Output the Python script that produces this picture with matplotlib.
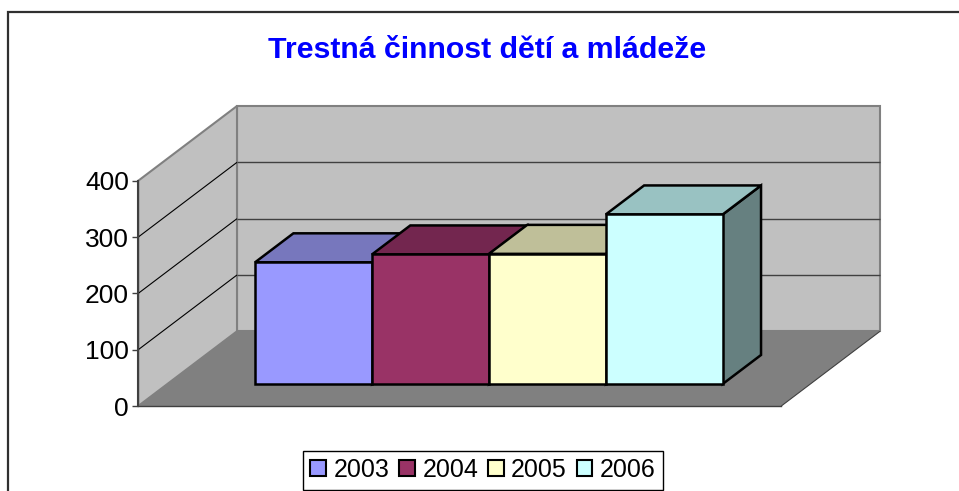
import matplotlib
matplotlib.use('Agg')
import matplotlib.pyplot as plt
from matplotlib.patches import Polygon, Rectangle

plt.rcParams['font.family'] = ['Liberation Sans', 'DejaVu Sans']

title = 'Trestná činnost dětí a mládeže'
years = ['2003', '2004', '2005', '2006']
counts = [216, 230, 231, 301]
front_colors = ['#9999FF', '#993366', '#FFFFCC', '#CCFFFF']
top_colors = ['#7777BD', '#73264F', '#BFBF99', '#99C2C2']
side_colors = ['#5C5C99', '#5C1F3D', '#99997A', '#668080']
yticks = [0, 100, 200, 300, 400]
vmax = 400

W, H = 959, 491
fig = plt.figure(figsize=(W / 100, H / 100), dpi=100)

# front plane of the 3d box, in pixels from top-left
left_px, right_px, top_px, base_px = 138.3, 781.3, 180.7, 406
ax = fig.add_axes([left_px / W, 1 - base_px / H,
                   (right_px - left_px) / W, (base_px - top_px) / H])
ax.set_xlim(0, 1)
ax.set_ylim(0, vmax)
ax.patch.set_visible(False)

# depth direction (pixels) converted to data units
DX = 98.7 / (right_px - left_px)
DV = 74.7 / (base_px - top_px) * vmax


def P(x, v, z):
    return (x + z * DX, v + z * DV)


def face(pts, **kw):
    ax.add_patch(Polygon(pts, closed=True, clip_on=False, **kw))


def line(a, b, **kw):
    ax.plot([a[0], b[0]], [a[1], b[1]], clip_on=False, solid_capstyle='butt', **kw)


# walls and floor
face([P(0, 0, 1), P(1, 0, 1), P(1, vmax, 1), P(0, vmax, 1)],
     fc='#C0C0C0', ec='#808080', lw=1.5, zorder=1)
face([P(0, 0, 0), P(0, 0, 1), P(0, vmax, 1), P(0, vmax, 0)],
     fc='#C0C0C0', ec='#808080', lw=1.5, zorder=1)
face([P(0, 0, 0), P(1, 0, 0), P(1, 0, 1), P(0, 0, 1)],
     fc='#808080', ec='none', zorder=1.1)
line(P(1, 0, 0), P(1, 0, 1), color='#404040', lw=0.8, zorder=1.2)

for v in yticks[1:-1]:
    line(P(0, v, 0), P(0, v, 1), color='black', lw=0.8, zorder=1.3)
    line(P(0, v, 1), P(1, v, 1), color='#404040', lw=1.0, zorder=1.3)

# bars (one category, four series, gap width 150%)
w = 1 / (len(years) + 1.5)
gap = 0.75 * w
z0, z1 = 0.295, 0.683
for i, v in enumerate(counts):
    x0 = gap + i * w
    x1 = x0 + w
    kw = dict(ec='black', lw=1.8, joinstyle='miter', zorder=2 + i * 0.1)
    face([P(x1, 0, z0), P(x1, 0, z1), P(x1, v, z1), P(x1, v, z0)], fc=side_colors[i], **kw)
    face([P(x0, v, z0), P(x1, v, z0), P(x1, v, z1), P(x0, v, z1)], fc=top_colors[i], **kw)
    face([P(x0, 0, z0), P(x1, 0, z0), P(x1, v, z0), P(x0, v, z0)], fc=front_colors[i], **kw)

# value axis
ax.set_yticks(yticks)
ax.set_xticks([])
ax.tick_params(axis='y', direction='out', length=4.3, width=1, color='#404040',
               labelsize=19, pad=2.5)
for s in ['top', 'right']:
    ax.spines[s].set_visible(False)
ax.spines['left'].set_color('#404040')
ax.spines['left'].set_linewidth(1.5)
ax.spines['bottom'].set_color('#404040')
ax.spines['bottom'].set_linewidth(1.0)

fig.text(487.5 / W, 1 - 57.5 / H, title, ha='center', va='baseline',
         color='#0000FF', fontsize=21.8, fontweight='bold')

handles = [Rectangle((0, 0), 1, 1, fc=c, ec='black', lw=1.5) for c in front_colors]
leg = fig.legend(handles, years, loc='center', bbox_to_anchor=(483 / W, 1 - 470 / H),
                 ncol=4, frameon=True, fancybox=False, edgecolor='black', framealpha=1,
                 fontsize=18, handlelength=0.62, handleheight=0.62, handletextpad=0.3,
                 columnspacing=0.4, borderpad=0.3, borderaxespad=0)
leg.get_frame().set_linewidth(1.0)

# outer chart frame (only top and left visible)
fig.add_artist(Rectangle((7.5 / W, -1), 2, 2 - 12 / H, transform=fig.transFigure,
                         fill=False, ec='#303030', lw=1.6))

fig.savefig('out.png', dpi=100)
